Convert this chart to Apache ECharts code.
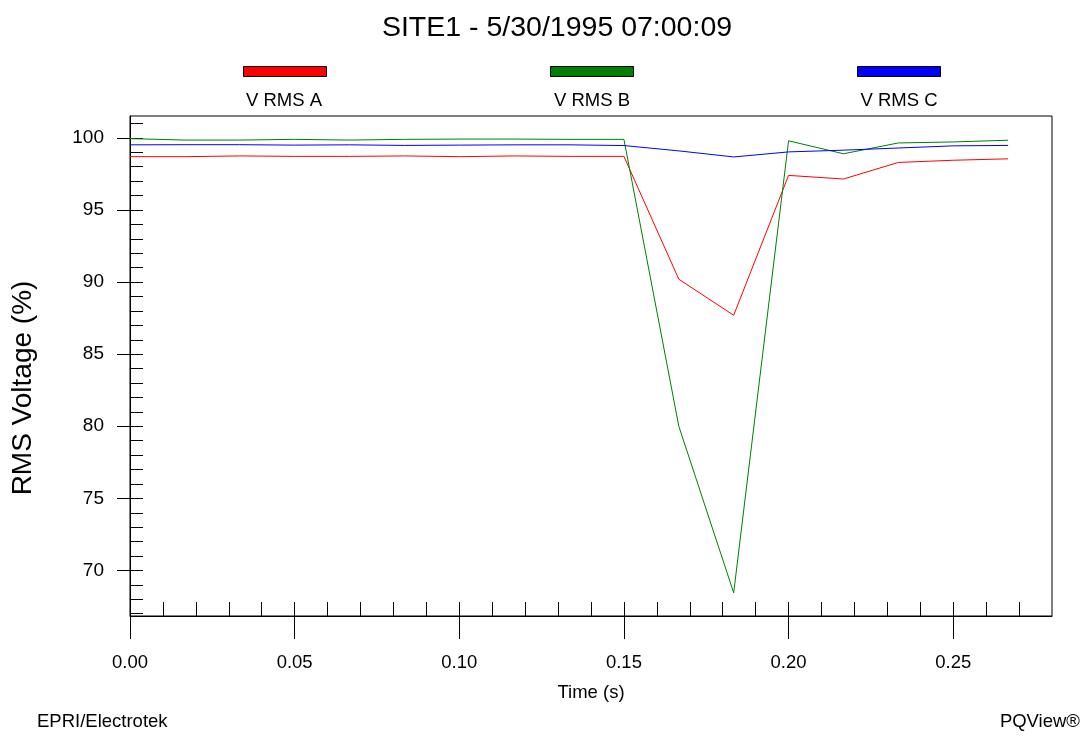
<!DOCTYPE html>
<html>
<head>
<meta charset="utf-8">
<title>SITE1 - 5/30/1995 07:00:09</title>
<script src="https://cdn.jsdelivr.net/npm/echarts@6/dist/echarts.min.js"></script>
<style>
    html, body { margin: 0; padding: 0; background: #fff; }
    #echart1 { width: 1084px; height: 736px; }
</style>
</head>
<body>
<div id="echart1"></div>
<script>
// time of each sample (s), one per cycle
var times = [0, 0.01667, 0.03333, 0.05, 0.06667, 0.08333, 0.1, 0.11667, 0.13333,
             0.15, 0.16667, 0.18333, 0.2, 0.21667, 0.23333, 0.25, 0.26667];
// RMS voltage in % of nominal
var vrmsA = [98.7, 98.7, 98.75, 98.72, 98.72, 98.75, 98.7, 98.75, 98.72,
             98.72, 90.2, 87.7, 97.4, 97.15, 98.3, 98.45, 98.55];
var vrmsB = [99.95, 99.85, 99.85, 99.9, 99.85, 99.9, 99.92, 99.92, 99.9,
             99.9, 80.0, 68.45, 99.8, 98.9, 99.65, 99.72, 99.84];
var vrmsC = [99.52, 99.53, 99.53, 99.5, 99.52, 99.48, 99.5, 99.52, 99.52,
             99.47, 99.1, 98.68, 99.03, 99.15, 99.3, 99.45, 99.48];
var seriesNames = ['V RMS A', 'V RMS B', 'V RMS C'];

var xTicks = [0, 0.05, 0.1, 0.15, 0.2, 0.25];
var yTicks = [70, 75, 80, 85, 90, 95, 100];

var font = "'Liberation Sans', Arial, sans-serif";

function pairs(xs, ys) {
    var out = [];
    for (var i = 0; i < xs.length; i++) out.push([xs[i], ys[i]]);
    return out;
}

function echarts_1() {
    var myChart = echarts.init(document.getElementById('echart1'));

    // small inside ticks: every 0.01 s and every 1 %
    var xMinor = [];
    for (var i = 0; i <= 27; i++) xMinor.push(i / 100);
    var yMinor = [];
    for (var v = 67; v <= 101; v++) yMinor.push(v);

    function legendFor(name, left) {
        return {
            data: [name],
            left: left,
            top: 66,
            padding: 0,
            icon: 'rect',
            itemWidth: 83,
            itemHeight: 10,
            selectedMode: false,
            formatter: function () { return ''; },
            textStyle: { fontSize: 8 },
            itemStyle: { borderColor: '#000', borderWidth: 1 }
        };
    }

    function label(text, pos, size) {
        var t = { text: text, padding: 0,
                  textStyle: { fontSize: size || 18.5, fontWeight: 'normal', color: '#000', fontFamily: font } };
        for (var k in pos) t[k] = pos[k];
        return t;
    }

    option = {
        animation: false,
        backgroundColor: '#fff',
        title: [
            label('SITE1 - 5/30/1995 07:00:09', { left: 557, top: 14, textAlign: 'center' }, 28.5),
            label('V RMS A', { left: 284, top: 91.5, textAlign: 'center' }),
            label('V RMS B', { left: 592, top: 91.5, textAlign: 'center' }),
            label('V RMS C', { left: 899, top: 91.5, textAlign: 'center' }),
            label('EPRI/Electrotek', { left: 37, top: 712 }),
            label('PQView®', { right: 4, top: 712 })
        ],
        legend: [
            legendFor(seriesNames[0], 243),
            legendFor(seriesNames[1], 550),
            legendFor(seriesNames[2], 857)
        ],
        grid: {
            left: 130,
            right: 32,
            top: 116,
            bottom: 120,
            show: true,
            borderColor: '#000',
            borderWidth: 1
        },
        xAxis: [{
            type: 'value',
            min: 0,
            max: 0.28,
            position: 'bottom',
            name: 'Time (s)',
            nameLocation: 'middle',
            nameGap: 67,
            nameTextStyle: { fontSize: 18.5, color: '#000', fontFamily: font },
            axisLine: { show: true, lineStyle: { color: '#000', width: 1 } },
            axisTick: { show: true, inside: false, length: 23, customValues: xTicks,
                        lineStyle: { color: '#000' } },
            axisLabel: { show: true, customValues: xTicks, margin: 37, fontSize: 18.5,
                         color: '#000', fontFamily: font,
                         formatter: function (val) { return val.toFixed(2); } },
            splitLine: { show: false }
        }, {
            type: 'value',
            min: 0,
            max: 0.28,
            position: 'bottom',
            axisLine: { show: false },
            axisTick: { show: true, inside: true, length: 14, customValues: xMinor,
                        lineStyle: { color: '#000' } },
            axisLabel: { show: false },
            splitLine: { show: false }
        }],
        yAxis: [{
            type: 'value',
            min: 66.84,
            max: 101.52,
            position: 'left',
            name: 'RMS Voltage (%)',
            nameLocation: 'middle',
            nameGap: 93,
            nameTextStyle: { fontSize: 28, color: '#000', fontFamily: font,
                             padding: [0, 44, 0, 0] },
            axisLine: { show: true, lineStyle: { color: '#000', width: 1 } },
            axisTick: { show: true, inside: false, length: 13, customValues: yTicks,
                        lineStyle: { color: '#000' } },
            axisLabel: { show: true, customValues: yTicks, margin: 26, fontSize: 19,
                         color: '#000', fontFamily: font },
            splitLine: { show: false }
        }, {
            type: 'value',
            min: 66.84,
            max: 101.52,
            position: 'left',
            axisLine: { show: false },
            axisTick: { show: true, inside: true, length: 13, customValues: yMinor,
                        lineStyle: { color: '#000' } },
            axisLabel: { show: false },
            splitLine: { show: false }
        }],
        series: [{
            name: seriesNames[0],
            type: 'line',
            data: pairs(times, vrmsA),
            showSymbol: false,
            symbol: 'none',
            color: '#ff0000',
            itemStyle: { color: '#ff0000' },
            lineStyle: { color: '#ff0000', width: 1 }
        }, {
            name: seriesNames[1],
            type: 'line',
            data: pairs(times, vrmsB),
            showSymbol: false,
            symbol: 'none',
            color: '#008000',
            itemStyle: { color: '#008000' },
            lineStyle: { color: '#008000', width: 1 }
        }, {
            name: seriesNames[2],
            type: 'line',
            data: pairs(times, vrmsC),
            showSymbol: false,
            symbol: 'none',
            color: '#0000ff',
            itemStyle: { color: '#0000ff' },
            lineStyle: { color: '#0000ff', width: 1 }
        }]
    };

    myChart.setOption(option);
    window.addEventListener("resize", function () {
        myChart.resize();
    });
}

echarts_1();
</script>
</body>
</html>
